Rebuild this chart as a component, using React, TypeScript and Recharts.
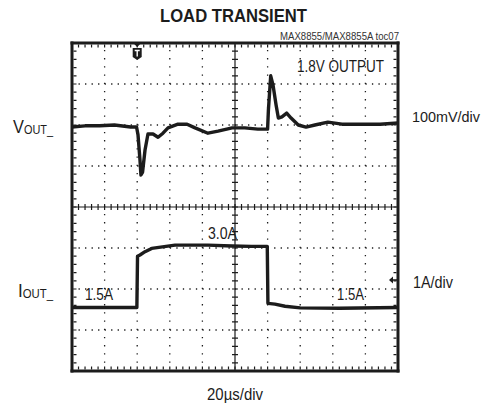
import { LineChart, Line, XAxis, YAxis, ReferenceLine, ReferenceDot } from "recharts";

// time in µs (20µs/div), output deviation in mV (100mV/div), load current in A (1A/div)
const VOUT_T = [0, 8, 17, 26, 36, 39.6, 40.5, 41.7, 42.3, 43.3, 44.8, 46.6, 49.7, 52.8, 55.8, 58.9, 65, 70.6, 75.5, 83.4, 89.6, 98.2, 106, 114, 120, 120.5, 121.9, 123.3, 125.2, 126.6, 128.8, 131.7, 134.4, 138.8, 143.6, 149, 157, 165.6, 176.7, 189, 200];
const VOUT_MV = [-5, -2, -2, 0, -5, -5, -24, -85, -122, -115, -61, -22, -22, -30, -20, -7, 2, 2, -7, -20, -15, -7, -7, -10, -10, 37, 120, 98, 49, 17, 20, 29, 17, 0, -5, 0, 7, 2, 2, 2, 5];

const IOUT_T = [0, 20, 39.8, 40.2, 41.7, 44.8, 48.9, 63.2, 83.4, 98.2, 110, 119.8, 120.2, 124.5, 130.7, 140, 164, 200];
const IOUT_A = [1.5, 1.5, 1.5, 2.75, 2.78, 2.86, 2.94, 3.02, 3.02, 3.0, 2.99, 2.99, 1.6, 1.58, 1.53, 1.49, 1.48, 1.5];

const X_GRID = [20, 40, 60, 80, 120, 140, 160, 180];
const Y_GRID = [1, 2, 3, 5, 6, 7];

// scope channel positions (in divisions)
const VOUT_POS = 6;
const IOUT_POS = 0.05;
const TRIG_T = 40;
const CH2_MARK = 2.22;

const W = 487;
const H = 408;
const M = { top: 43, right: 89, bottom: 37, left: 72 };
const PX_X = 200 / (W - M.left - M.right);
const PX_Y = 8 / (H - M.top - M.bottom);

const INK = "#1c1c1c";
const FONT = "'Liberation Sans', Arimo, sans-serif";

const voutData = VOUT_T.map((t, i) => ({ t, v: VOUT_POS + VOUT_MV[i] / 100 }));
const ioutData = IOUT_T.map((t, i) => ({ t, v: IOUT_POS + IOUT_A[i] }));

const TrigMarker = ({ cx, cy }: any) => (
  <g>
    <path d={`M${cx - 3},${cy + 1} h6 l-3,3 z`} fill={INK} />
    <path d={`M${cx - 4.5},${cy + 5} h9 v9 l-4.5,3 l-4.5,-3 z`} fill={INK} />
    <path d={`M${cx - 2.5},${cy + 7.5} h5 M${cx},${cy + 7.5} v6`} stroke="#fff" strokeWidth={1.4} />
  </g>
);

const ArrowMarker = ({ cx, cy }: any) => (
  <g>
    <path d={`M${cx - 9},${cy} l4,-3.5 v7 z`} fill={INK} />
    <path d={`M${cx - 6},${cy} h5`} stroke={INK} strokeWidth={1.5} />
  </g>
);

const Txt = ({ x, y, w, size = 17, children, ...rest }: any) => (
  <text x={x} y={y} fontFamily={FONT} fontSize={size} fill={INK} textLength={w} lengthAdjust="spacingAndGlyphs" {...rest}>
    {children}
  </text>
);

export default function App() {
  return (
    <div style={{ position: "absolute", left: 0, top: 0, width: W, height: H, background: "#fff" }}>
      <LineChart width={W} height={H} margin={M}>
        <XAxis type="number" dataKey="t" domain={[0, 200]} hide />
        <YAxis type="number" domain={[0, 8]} hide />

        {X_GRID.map((x) => (
          <ReferenceLine key={`gx${x}`} x={x} stroke={INK} strokeWidth={1.3} strokeDasharray="1.3 6.9" />
        ))}
        {Y_GRID.map((y) => (
          <ReferenceLine key={`gy${y}`} y={y} stroke={INK} strokeWidth={1.3} strokeDasharray="1.3 5.22" />
        ))}

        <ReferenceLine x={100} stroke={INK} strokeWidth={1.2} />
        <ReferenceLine y={4} stroke={INK} strokeWidth={1.2} />
        <ReferenceLine x={100} stroke={INK} strokeWidth={6} strokeDasharray="1.2 7" strokeDashoffset={0.6} />
        <ReferenceLine y={4} stroke={INK} strokeWidth={6} strokeDasharray="1.2 5.32" strokeDashoffset={0.6} />

        <Line data={voutData} dataKey="v" stroke={INK} strokeWidth={3.4} strokeLinejoin="round" dot={false} isAnimationActive={false} />
        <Line data={ioutData} dataKey="v" stroke={INK} strokeWidth={3.4} strokeLinejoin="round" dot={false} isAnimationActive={false} />

        <ReferenceLine y={8 - 3 * PX_Y} stroke={INK} strokeWidth={3} strokeDasharray="1.2 5.32" strokeDashoffset={0.6} />
        <ReferenceLine y={3 * PX_Y} stroke={INK} strokeWidth={3} strokeDasharray="1.2 5.32" strokeDashoffset={0.6} />
        <ReferenceLine x={3 * PX_X} stroke={INK} strokeWidth={3} strokeDasharray="1.2 7" strokeDashoffset={0.6} />
        <ReferenceLine x={200 - 3 * PX_X} stroke={INK} strokeWidth={3} strokeDasharray="1.2 7" strokeDashoffset={0.6} />

        <ReferenceLine x={0} stroke={INK} strokeWidth={3} strokeLinecap="square" />
        <ReferenceLine x={200} stroke={INK} strokeWidth={3} strokeLinecap="square" />
        <ReferenceLine y={0} stroke={INK} strokeWidth={3} strokeLinecap="square" />
        <ReferenceLine y={8} stroke={INK} strokeWidth={3} strokeLinecap="square" />

        <ReferenceDot x={TRIG_T} y={8} r={0} shape={TrigMarker} />
        <ReferenceDot x={200} y={CH2_MARK} r={0} shape={ArrowMarker} />

        <Txt x={160} y={22} w={147} size={18} fontWeight="bold">LOAD TRANSIENT</Txt>
        <Txt x={280} y={40} w={119} size={11.5} fill="#333">MAX8855/MAX8855A toc07</Txt>
        <Txt x={297} y={72} w={87} size={16}>1.8V OUTPUT</Txt>
        <Txt x={208} y={239} w={29} size={16}>3.0A</Txt>
        <Txt x={85} y={300} w={28} size={16}>1.5A</Txt>
        <Txt x={337} y={300} w={27} size={16}>1.5A</Txt>

        <Txt x={13} y={133} w={40} size={18}>
          V<tspan fontSize={12} dy={1}>OUT_</tspan>
        </Txt>
        <Txt x={18} y={297} w={35} size={18}>
          I<tspan fontSize={12} dy={1}>OUT_</tspan>
        </Txt>
        <Txt x={412} y={122} w={68} size={15.5}>100mV/div</Txt>
        <Txt x={413} y={288} w={40} size={17}>1A/div</Txt>
        <Txt x={207} y={400} w={56} size={17}>20µs/div</Txt>
      </LineChart>
    </div>
  );
}
